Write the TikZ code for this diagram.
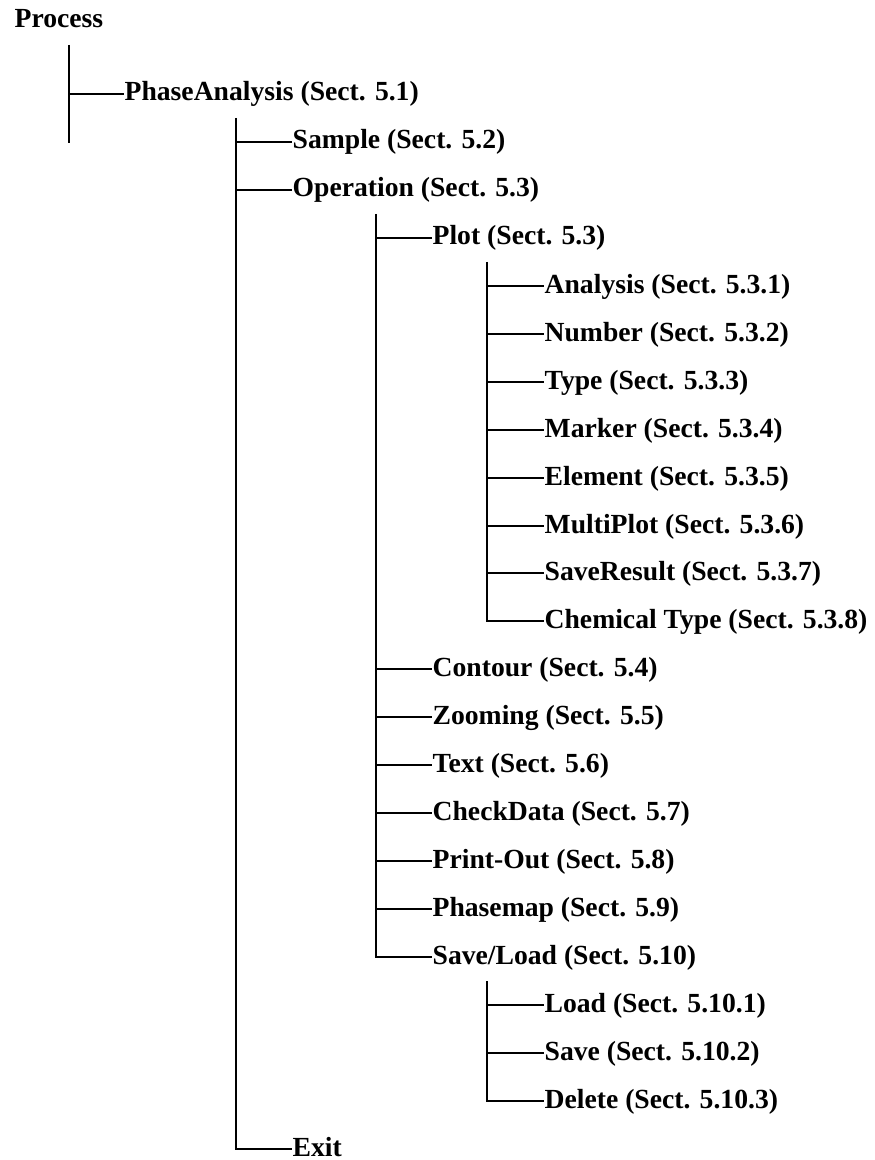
\documentclass[tikz,border=0pt]{standalone}
\usepackage{fontspec}
\setmainfont{Liberation Serif}
\begin{document}
\begin{tikzpicture}[x=0.03cm,y=-0.03cm,line width=1.1pt,
  entry/.style={anchor=west,inner sep=0pt,text height=0.42cm,text depth=0pt,
    font=\bfseries\fontsize{23.6}{28}\selectfont}]
\useasboundingbox (0,0) rectangle (874,1160);
\node[entry] (process) at (14,21) {Process};
\node[entry] (phase) at (124,94) {PhaseAnalysis (Sect. 5.1)};
\node[entry] (sample) at (292,142) {Sample (Sect. 5.2)};
\node[entry] (operation) at (292,190) {Operation (Sect. 5.3)};
\node[entry] (plot) at (432,238) {Plot (Sect. 5.3)};
\node[entry] (analysis) at (544,286) {Analysis (Sect. 5.3.1)};
\node[entry] (number) at (544,334) {Number (Sect. 5.3.2)};
\node[entry] (type) at (544,382) {Type (Sect. 5.3.3)};
\node[entry] (marker) at (544,430) {Marker (Sect. 5.3.4)};
\node[entry] (element) at (544,478) {Element (Sect. 5.3.5)};
\node[entry] (multiplot) at (544,526) {MultiPlot (Sect. 5.3.6)};
\node[entry] (saveresult) at (544,573) {SaveResult (Sect. 5.3.7)};
\node[entry] (chemtype) at (544,621) {Chemical Type (Sect. 5.3.8)};
\node[entry] (contour) at (432,669) {Contour (Sect. 5.4)};
\node[entry] (zooming) at (432,717) {Zooming (Sect. 5.5)};
\node[entry] (txt) at (432,765) {Text (Sect. 5.6)};
\node[entry] (checkdata) at (432,813) {CheckData (Sect. 5.7)};
\node[entry] (printout) at (432,861) {Print-Out (Sect. 5.8)};
\node[entry] (phasemap) at (432,909) {Phasemap (Sect. 5.9)};
\node[entry] (saveload) at (432,957) {Save/Load (Sect. 5.10)};
\node[entry] (load) at (544,1005) {Load (Sect. 5.10.1)};
\node[entry] (save) at (544,1053) {Save (Sect. 5.10.2)};
\node[entry] (delete) at (544,1101) {Delete (Sect. 5.10.3)};
\node[entry] (exit) at (292,1149) {Exit};
\coordinate (top1) at (69,45);
\coordinate (bot1) at (69,143);
\draw (top1) -- (bot1);
\draw (top1 |- phase.west) -- (phase.west);
\coordinate (top2) at (236,118);
\draw (top2) |- (exit.west);
\draw (top2 |- sample.west) -- (sample.west);
\draw (top2 |- operation.west) -- (operation.west);
\coordinate (top3) at (376,214);
\draw (top3) |- (saveload.west);
\draw (top3 |- plot.west) -- (plot.west);
\draw (top3 |- contour.west) -- (contour.west);
\draw (top3 |- zooming.west) -- (zooming.west);
\draw (top3 |- txt.west) -- (txt.west);
\draw (top3 |- checkdata.west) -- (checkdata.west);
\draw (top3 |- printout.west) -- (printout.west);
\draw (top3 |- phasemap.west) -- (phasemap.west);
\coordinate (top4) at (487,262);
\draw (top4) |- (chemtype.west);
\draw (top4 |- analysis.west) -- (analysis.west);
\draw (top4 |- number.west) -- (number.west);
\draw (top4 |- type.west) -- (type.west);
\draw (top4 |- marker.west) -- (marker.west);
\draw (top4 |- element.west) -- (element.west);
\draw (top4 |- multiplot.west) -- (multiplot.west);
\draw (top4 |- saveresult.west) -- (saveresult.west);
\coordinate (top5) at (487,981);
\draw (top5) |- (delete.west);
\draw (top5 |- load.west) -- (load.west);
\draw (top5 |- save.west) -- (save.west);
\end{tikzpicture}
\end{document}
